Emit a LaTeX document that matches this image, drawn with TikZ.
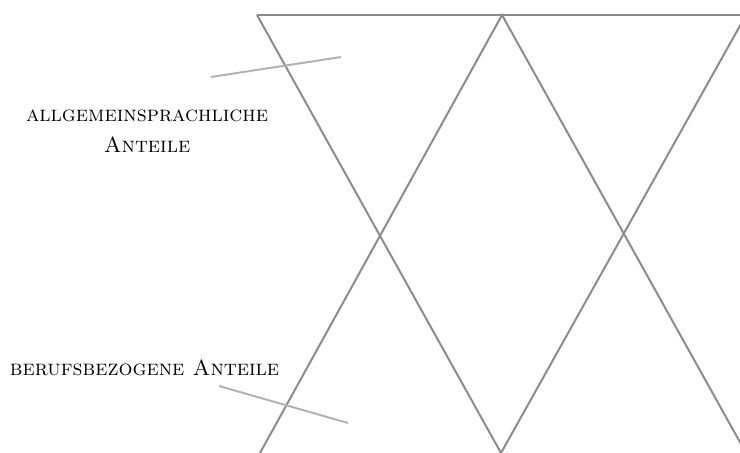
\documentclass[tikz,border=0pt]{standalone}
\begin{document}
\begin{tikzpicture}[x=0.5pt,y=-0.5pt,
  zig/.style={draw=black!45,line width=1pt},
  pointer/.style={draw=black!30,line width=1pt},
  lbl/.style={align=center,font=\fontsize{10.95}{15.5}\selectfont\scshape,inner sep=0pt}]
\useasboundingbox (0,0) rectangle (740,453);
\clip (0,0) rectangle (740,453);
\coordinate (t1) at (257,15);
\coordinate (t2) at (502,15);
\coordinate (t3) at (746,15);
\coordinate (t4) at (760,15);
\coordinate (b0) at (260,453);
\coordinate (b1) at (501,453);
\coordinate (b2) at (746,453);
\draw[zig] (t1) -- (t4);
\draw[zig] (t1) -- (b1) -- (t3);
\draw[zig] (b0) -- (t2) -- (b2);
\node[lbl,anchor=base] (a) at (147,153) {allgemeinsprachliche\\Anteile};
\node[lbl,anchor=base] (b) at (144.5,376) {berufsbezogene Anteile};
\coordinate (p1) at (211,77);
\coordinate (p2) at (341,57);
\coordinate (q1) at (219,386);
\coordinate (q2) at (348,423);
\draw[pointer] (p1) -- (p2);
\draw[pointer] (q1) -- (q2);
\end{tikzpicture}
\end{document}
